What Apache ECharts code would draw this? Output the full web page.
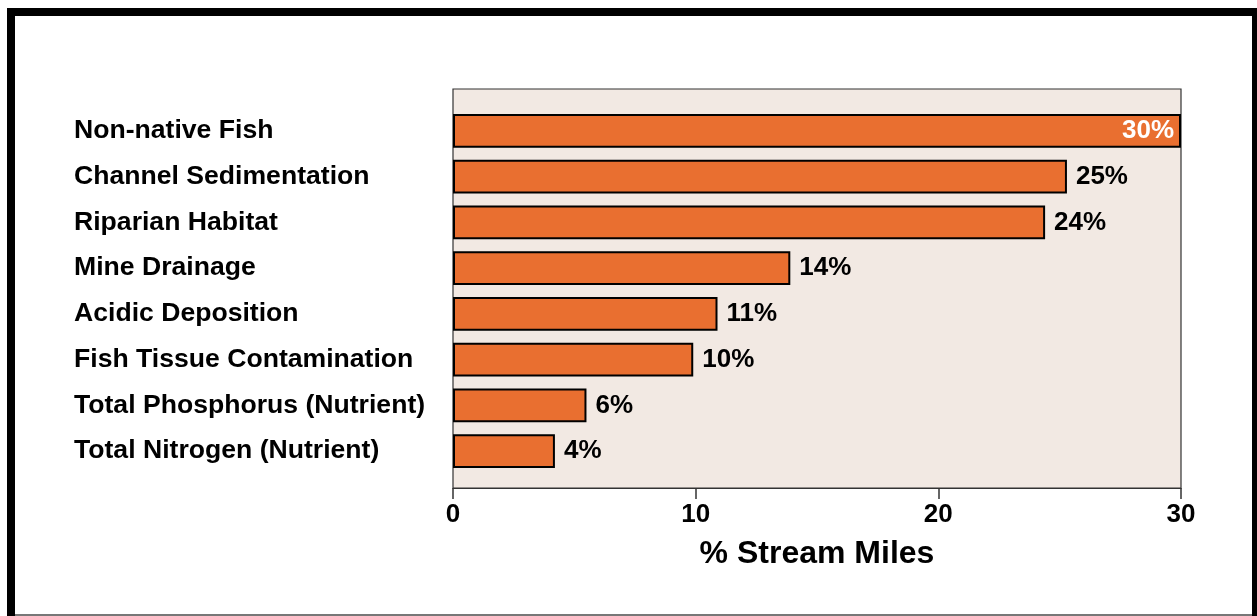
<!DOCTYPE html>
<html>
<head>
<meta charset="utf-8">
<script src="https://cdn.jsdelivr.net/npm/echarts@6/dist/echarts.min.js"></script>
<style>
html,body{margin:0;padding:0;background:#fff;}
#chart{width:1257px;height:616px;}
</style>
</head>
<body>
<div id="chart"></div>
<script>
const categories = ["Non-native Fish","Channel Sedimentation","Riparian Habitat","Mine Drainage","Acidic Deposition","Fish Tissue Contamination","Total Phosphorus (Nutrient)","Total Nitrogen (Nutrient)"];
const values = [30, 25.3, 24.4, 13.9, 10.9, 9.9, 5.5, 4.2];
const valueLabels = ["30%","25%","24%","14%","11%","10%","6%","4%"];
const xTicks = [0, 10, 20, 30];

const FONT = "'Liberation Sans', Arial, sans-serif";
const chart = echarts.init(document.getElementById('chart'));
chart.setOption({
  animation: false,
  backgroundColor: '#fff',
  graphic: [
    {type:'rect', shape:{x:7,y:8,width:1250,height:8}, style:{fill:'#000'}},
    {type:'rect', shape:{x:7,y:8,width:8,height:608}, style:{fill:'#000'}},
    {type:'rect', shape:{x:1252,y:8,width:5,height:608}, style:{fill:'#000'}},
    {type:'rect', shape:{x:15,y:614,width:1237,height:2}, style:{fill:'#777'}}
  ],
  grid: [
    {left:453, right:76, top:89, bottom:128, show:true, backgroundColor:'#f2e9e3', borderColor:'#333', borderWidth:1.2},
    {left:453, right:76, top:108, bottom:142}
  ],
  xAxis: [
    {gridIndex:0, type:'value', min:xTicks[0], max:xTicks[xTicks.length-1], interval:10,
     axisLine:{show:true, lineStyle:{color:'#333', width:1.2}},
     axisTick:{show:true, length:11, lineStyle:{color:'#333', width:1.5}},
     splitLine:{show:false},
     axisLabel:{color:'#000', fontSize:26, fontWeight:'bold', fontFamily:FONT, margin:14},
     name:'% Stream Miles', nameLocation:'middle', nameGap:50,
     nameTextStyle:{color:'#000', fontSize:32, fontWeight:'bold', fontFamily:FONT}},
    {gridIndex:1, type:'value', min:0, max:30, show:false, splitLine:{show:false}}
  ],
  yAxis: [
    {gridIndex:0, type:'value', show:false, splitLine:{show:false}},
    {gridIndex:1, type:'category', data:categories, inverse:true,
     axisLine:{show:false}, axisTick:{show:false},
     axisLabel:{align:'left', margin:379, color:'#000', fontSize:26.6, fontWeight:'bold', fontFamily:FONT, padding:[4,0,0,0]}}
  ],
  series: [{
    type:'bar', xAxisIndex:1, yAxisIndex:1,
    data: values.map((v,i)=>({
      value:v,
      label: i===0 ? {position:'insideRight', distance:7, color:'#fff'} : {position:'right', distance:9, color:'#000'}
    })),
    barCategoryGap:'26%',
    itemStyle:{color:'#e96f30', borderColor:'#000', borderWidth:2},
    label:{show:true, fontSize:26, fontWeight:'bold', fontFamily:FONT, padding:[3,0,0,0],
      formatter: p => valueLabels[p.dataIndex]}
  }]
});
</script>
</body>
</html>
